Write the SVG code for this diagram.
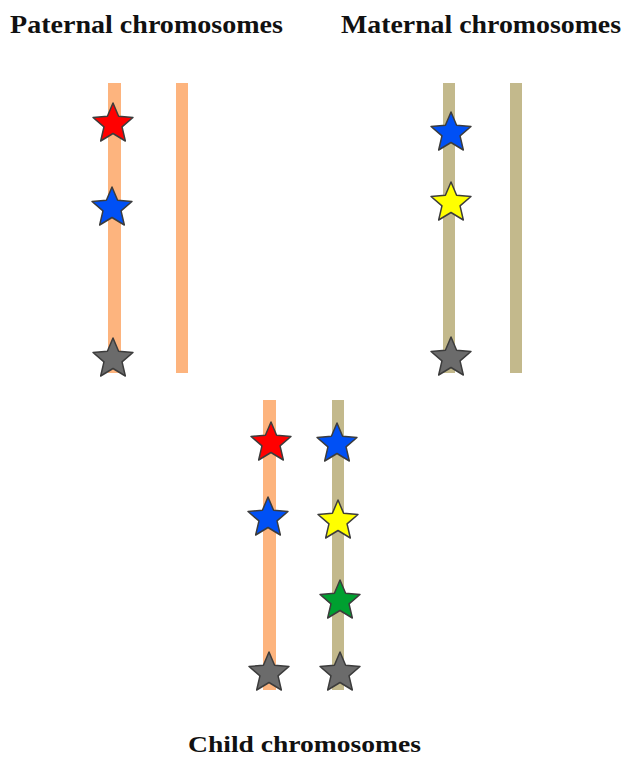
<svg xmlns="http://www.w3.org/2000/svg" xmlns:xlink="http://www.w3.org/1999/xlink" width="624" height="760" viewBox="0 0 624 760">
<style>
.title{font-family:"Liberation Serif","Times New Roman",serif;font-weight:bold;font-size:26px;fill:#111}
.child{font-size:24px}
.pat{fill:#FDB47E}
.mat{fill:#C3B98C}
.star{stroke:#3c3c3c;stroke-width:1.5;stroke-linejoin:round}
.red{fill:#FF0000}.blue{fill:#0050F5}.yellow{fill:#FFFF00}.green{fill:#00A030}.gray{fill:#6B6B6B}
</style>
<defs>
<path id="s" d="M0,-21 L5.6,-7.7 L19.97,-6.49 L9.04,2.94 L12.34,16.99 L0,9.5 L-12.34,16.99 L-9.04,2.94 L-19.97,-6.49 L-5.6,-7.7 Z"/>
</defs>
<rect width="624" height="760" fill="#fff"/>
<g id="labels">
<text class="title" x="10" y="33" textLength="273" lengthAdjust="spacingAndGlyphs">Paternal chromosomes</text>
<text class="title" x="341" y="33" textLength="280" lengthAdjust="spacingAndGlyphs">Maternal chromosomes</text>
<text class="title child" x="188" y="752" textLength="233" lengthAdjust="spacingAndGlyphs">Child chromosomes</text>
</g>
<g id="paternal">
<rect class="pat" x="108" y="83" width="13" height="290"/>
<rect class="pat" x="176" y="83" width="12" height="290"/>
<use href="#s" class="star red" x="113" y="124"/>
<use href="#s" class="star blue" x="112" y="208"/>
<use href="#s" class="star gray" x="113" y="359"/>
</g>
<g id="maternal">
<rect class="mat" x="443" y="83" width="12" height="290"/>
<rect class="mat" x="510" y="83" width="12" height="290"/>
<use href="#s" class="star blue" x="451" y="133"/>
<use href="#s" class="star yellow" x="451" y="203"/>
<use href="#s" class="star gray" x="451" y="358"/>
</g>
<g id="child">
<rect class="pat" x="263" y="400" width="13" height="290"/>
<rect class="mat" x="332" y="400" width="12" height="290"/>
<use href="#s" class="star red" x="271" y="443"/>
<use href="#s" class="star blue" x="268" y="518"/>
<use href="#s" class="star gray" x="269" y="673"/>
<use href="#s" class="star blue" x="337" y="444"/>
<use href="#s" class="star yellow" x="338" y="521"/>
<use href="#s" class="star green" x="340" y="601"/>
<use href="#s" class="star gray" x="340" y="673"/>
</g>
</svg>
